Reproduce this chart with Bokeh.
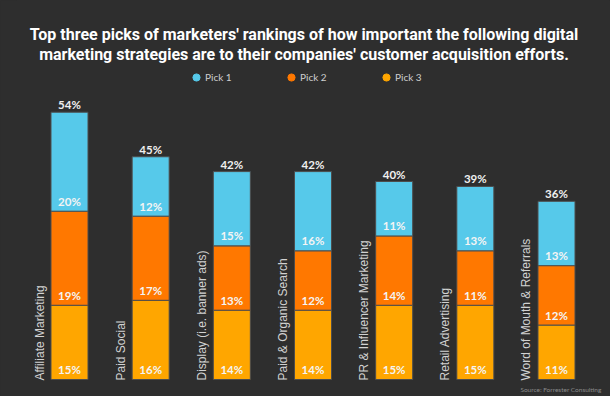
from bokeh.plotting import figure
from bokeh.models import (FactorRange, Range1d, Label, Legend, LegendItem,
                          ColumnDataSource, GlobalInlineStyleSheet)
from bokeh.core.properties import value
from bokeh.embed import file_html
from bokeh.resources import INLINE
import math

# ---- data ----
categories = ["Affiliate Marketing", "Paid Social", "Display (i.e. banner ads)",
              "Paid & Organic Search", "PR & Influencer Marketing",
              "Retail Advertising", "Word of Mouth & Referrals"]
pick3 = [15, 16, 14, 14, 15, 15, 11]
pick2 = [19, 17, 13, 12, 14, 11, 12]
pick1 = [20, 12, 15, 16, 11, 13, 13]
series_names = ["Pick 1", "Pick 2", "Pick 3"]
title_lines = ["Top three picks of marketers' rankings of how important the following digital",
               "marketing strategies are to their companies' customer acquisition efforts."]
source_note = "Source: Forrester Consulting"

# ---- style ----
BG = "#2e2e2e"
C1, C2, C3 = "#56c9ea", "#ff7800", "#ffa600"
W, H = 610, 396

totals = [a + b + c for a, b, c in zip(pick3, pick2, pick1)]
base2 = pick3[:]
base1 = [a + b for a, b in zip(pick3, pick2)]

src = ColumnDataSource(dict(cat=categories, p3=pick3, p2=pick2, p1=pick1,
                            base3=[0] * len(categories), base2=base2, base1=base1,
                            total=totals,
                            l3=[f"{v}%" for v in pick3], l2=[f"{v}%" for v in pick2],
                            l1=[f"{v}%" for v in pick1], lt=[f"{v}%" for v in totals]))

x_range = FactorRange(factors=categories, range_padding=0.153, range_padding_units="absolute")
px_per_unit = 4.95
y_range = Range1d(-17 / px_per_unit, 379 / px_per_unit)

p = figure(width=W, height=H, x_range=x_range, y_range=y_range,
           output_backend="svg", toolbar_location=None,
           x_axis_location=None, y_axis_location=None,
           min_border_left=16, min_border_right=1, min_border_top=0, min_border_bottom=0,
           background_fill_color=BG, border_fill_color=BG, outline_line_color=None)
p.xgrid.visible = False
p.ygrid.visible = False
p.stylesheets = [GlobalInlineStyleSheet(css=f"html,body{{margin:0;padding:0;background:{BG};overflow:hidden;}}")]

p.vbar_stack(["p3", "p2", "p1"], x="cat", width=0.456, source=src,
             color=[C3, C2, C1], line_color="#4d4d4d", line_width=1)

num_font = value("Lato")
for col, base in (("l3", "base3"), ("l2", "base2"), ("l1", "base1")):
    p.text(x="cat", y=base, text=col, source=src, text_align="center",
           text_baseline="middle", y_offset=-10, text_font=num_font,
           text_font_size="11.5px", text_font_style="bold", text_color="#f4f4f4")
p.text(x="cat", y="total", text="lt", source=src, text_align="center",
       text_baseline="bottom", y_offset=-1, text_font=num_font,
       text_font_size="11.5px", text_font_style="bold", text_color="#f0f0f0")

# category labels (rotated)
p.text(x="cat", y="base3", text="cat", source=src, angle=math.pi / 2,
       text_align="left", text_baseline="middle", x_offset=-30, y_offset=1,
       text_font=value("Liberation Sans"), text_font_size="12px", text_color="#d2d2d2")

# title
FL = 16  # frame left offset in canvas
for i, line in enumerate(title_lines):
    p.add_layout(Label(x=303.5 - FL, y=H - (34 + 19.5 * i), x_units="screen", y_units="screen",
                       text=line, text_align="center", text_baseline="alphabetic",
                       text_font="Roboto", text_font_size="16px", text_font_style="bold",
                       text_color="#ffffff"))

# source
p.add_layout(Label(x=601 - FL, y=H - 389, x_units="screen", y_units="screen",
                   text=source_note, text_align="right", text_baseline="middle",
                   text_font="Lato", text_font_size="6.5px", text_color="#8a8a8a"))

# legend with circles (hidden scatter renderers used only as legend glyphs)
items = []
for name, c in zip(series_names, [C1, C2, C3]):
    r = p.scatter(x="cat", y="total", source=src, marker="circle",
                  fill_color=c, line_color=c, visible=False)
    items.append(LegendItem(label=name, renderers=[r], index=0))
legend = Legend(items=items, orientation="horizontal", location=(187 - FL, H - 87),
                glyph_width=18, glyph_height=20, label_height=20, label_width=77,
                label_standoff=-3, spacing=0, padding=0, margin=0,
                border_line_color=None, background_fill_alpha=0,
                label_text_font="Lato", label_text_font_size="10px",
                label_text_color="#cfcfcf", label_text_baseline="middle",
                click_policy="none")
p.add_layout(legend, "center")

open("out.html", "w").write(file_html(p, INLINE))
